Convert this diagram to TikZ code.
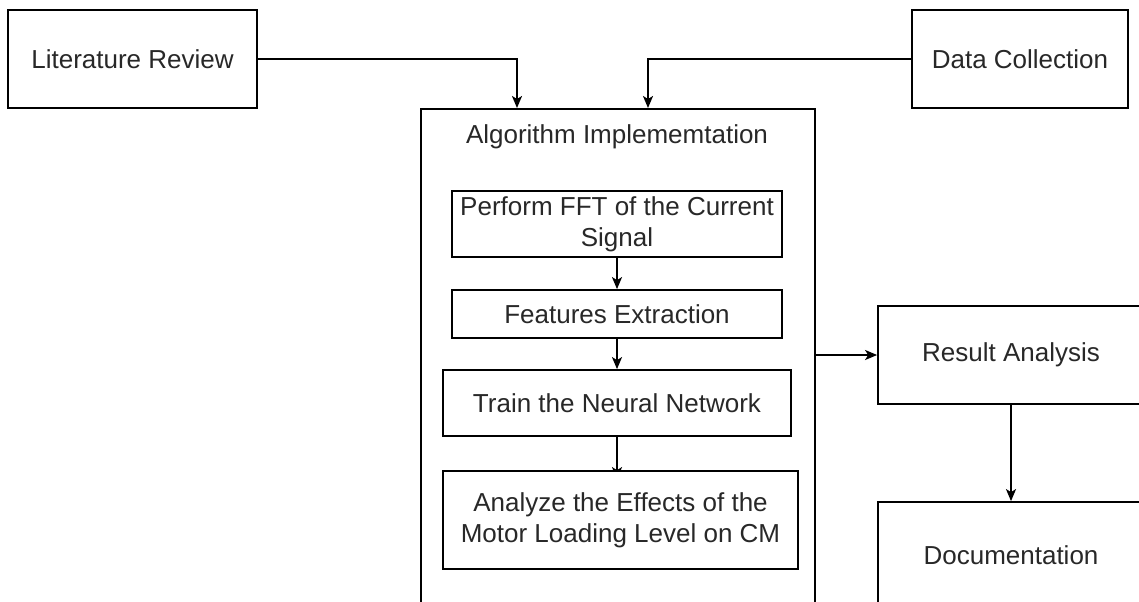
\documentclass[tikz,border=0pt]{standalone}
\usepackage{fontspec}
\setmainfont{Liberation Sans}
\usetikzlibrary{arrows.meta,backgrounds}
\definecolor{txt}{RGB}{40,40,40}
\pgfdeclarelayer{bottom}
\pgfsetlayers{bottom,background,main}
\begin{document}
\begin{tikzpicture}[x=0.5pt,y=-0.5pt,
  box/.style={draw=black,line width=0.9pt,fill=white,inner sep=0pt,align=center,
    text=txt,font=\fontsize{13}{15.5}\selectfont},
  lbl/.style={inner sep=0pt,text=txt,font=\fontsize{13}{15.5}\selectfont},
  arr/.style={draw=black,line width=0.9pt,-{Stealth[length=6pt,width=5pt,inset=1.5pt]}}]
\useasboundingbox (0,0) rectangle (1139,601);
\clip (0,0) rectangle (1139,601);
\begin{pgfonlayer}{bottom}
\fill[white] (0,0) rectangle (1139,601);
\end{pgfonlayer}

% outer boxes
\node[box,minimum width=124.5pt,minimum height=49pt] (lr) at (132.5,59) {Literature Review};
\node[box,minimum width=108pt,minimum height=49pt] (dc) at (1020,59) {Data Collection};
\node[box,fill=none,minimum width=197pt,minimum height=270pt,anchor=north west] (alg) at (420,108) {};
\node[lbl] (algt) at (617,137) {Algorithm Implememtation};

% inner steps
\node[box,minimum width=165pt,minimum height=33pt] (fft) at (617,224) {Perform FFT of the Current\\Signal};
\node[box,minimum width=165pt,minimum height=24pt] (fe) at (617,314) {Features Extraction};
\node[box,minimum width=174pt,minimum height=33pt] (tr) at (617,403) {Train the Neural Network};
\node[box,minimum width=177.5pt,minimum height=49pt] (an) at (620.5,520) {Analyze the Effects of the\\Motor Loading Level on CM};

% right column
\node[box,minimum width=133pt,minimum height=49pt] (ra) at (1011,355) {Result Analysis};
\node[box,minimum width=133pt,minimum height=53pt] (doc) at (1011,555) {Documentation};

% connector end points
\coordinate (lrin) at (517,108);
\coordinate (dcin) at (648,108);

\draw[arr] (lr.east) -| (lrin);
\draw[arr] (dc.west) -| (dcin);
\draw[arr] (fft.south -| fe.north) -- (fe.north);
\draw[arr] (fe.south) -- (fe.south |- tr.north);
\begin{pgfonlayer}{background}
\draw[arr] (tr.south) -- ([yshift=-4.5pt]tr.south |- an.north);
\end{pgfonlayer}
\draw[arr] (alg.east |- ra.west) -- (ra.west);
\draw[arr] (ra.south) -- (doc.north);
\end{tikzpicture}
\end{document}
